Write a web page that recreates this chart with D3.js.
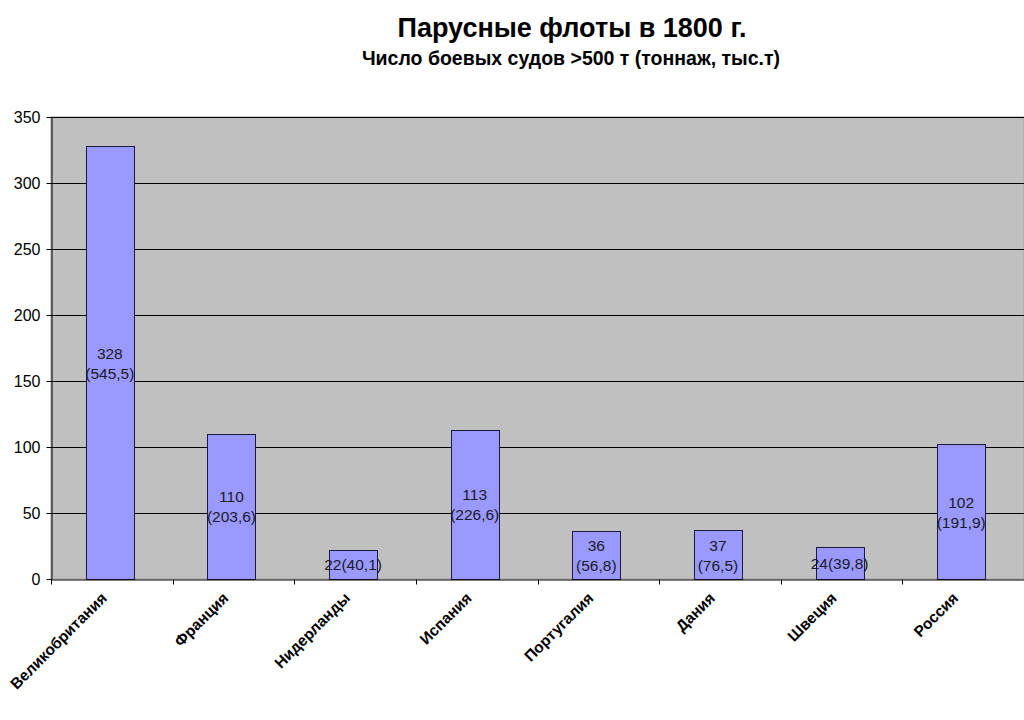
<!DOCTYPE html>
<html><head><meta charset="utf-8">
<script src="https://cdn.jsdelivr.net/npm/d3@7"></script>
<style>body{margin:0;background:#fff}svg{display:block}</style>
</head><body>
<svg id="c" width="1024" height="720"></svg>
<script>
const categories = ["Великобритания","Франция","Нидерланды","Испания","Португалия","Дания","Швеция","Россия"];
const ships = [328,110,22,113,36,37,24,102];
const tonnage = ["545,5","203,6","40,1","226,6","56,8","76,5","39,8","191,9"];
const singleLine = [false,false,true,false,false,false,true,false];
const yTicks = [0,50,100,150,200,250,300,350];
const title = "Парусные флоты в 1800 г.";
const subtitle = "Число боевых судов >500 т (тоннаж, тыс.т)";

const svg = d3.select("#c");
const font = "'Liberation Sans', Arial, sans-serif";
const L=51, R=1024, T=117, B=579;
const x = d3.scaleBand().domain(categories).range([L,R]).padding(0);
const y = d3.scaleLinear().domain([0,350]).range([B,T]);
const barW = x.bandwidth()*0.395;
const shift = -2;

svg.append("rect").attr("x",L).attr("y",T).attr("width",R-L).attr("height",B-T)
  .attr("fill","#c0c0c0").attr("stroke","#a0a0a0");

svg.append("g").selectAll("line").data(yTicks.filter(d=>d>0)).join("line")
  .attr("x1",L).attr("x2",R).attr("y1",d=>y(d)+0.5).attr("y2",d=>y(d)+0.5)
  .attr("stroke","#000").attr("stroke-width",1);

svg.append("g").selectAll("rect").data(categories).join("rect")
  .attr("x",(d)=>Math.round(x(d)+x.bandwidth()/2+shift-barW/2)+0.5)
  .attr("y",(d,i)=>Math.round(y(ships[i]))+0.5)
  .attr("width",Math.round(barW))
  .attr("height",(d,i)=>Math.round(B-y(ships[i])))
  .attr("fill","#9999ff").attr("stroke","#1a1a40").attr("stroke-width",1);

const ya = svg.append("g").attr("transform",`translate(${L+0.5},0)`)
  .call(d3.axisLeft(y).tickValues(yTicks).tickSize(5).tickSizeOuter(0).tickPadding(6));
ya.select(".domain").attr("stroke","#000");
ya.selectAll(".tick line").attr("stroke","#000");
ya.selectAll("text").attr("font-family",font).attr("font-size",16).attr("fill","#000");

const xa = svg.append("g").attr("transform",`translate(0,${B+0.5})`)
  .call(d3.axisBottom(x).tickSize(0).tickFormat(""));
xa.select(".domain").attr("stroke","#000");
const bounds = categories.map(c=>x(c)).concat([R]);
xa.selectAll(".bt").data(bounds).join("line").attr("class","bt")
  .attr("x1",d=>Math.round(d)+0.5).attr("x2",d=>Math.round(d)+0.5).attr("y1",0).attr("y2",5)
  .attr("stroke","#000");
svg.append("g").selectAll("text").data(categories).join("text")
  .attr("transform",d=>`translate(${x(d)+x.bandwidth()/2-4},${B+20}) rotate(-45)`)
  .attr("text-anchor","end").attr("font-family",font).attr("font-size",15.5)
  .attr("font-weight","bold").attr("fill","#000").text(d=>d);

const lbl = svg.append("g").attr("font-family",font).attr("font-size",15.5).attr("fill","#1a1a2a").attr("text-anchor","middle");
categories.forEach((c,i)=>{
  const cx = x(c)+x.bandwidth()/2+shift;
  const cy = (y(ships[i])+B)/2;
  if(singleLine[i]){
    lbl.append("text").attr("x",cx).attr("y",cy+6).text(ships[i]+"("+tonnage[i]+")");
  } else {
    lbl.append("text").attr("x",cx).attr("y",cy-4).text(ships[i]);
    lbl.append("text").attr("x",cx).attr("y",cy+16).text("("+tonnage[i]+")");
  }
});

svg.append("text").attr("x",572).attr("y",37).attr("text-anchor","middle")
  .attr("font-family",font).attr("font-size",27).attr("font-weight","bold").text(title);
svg.append("text").attr("x",571).attr("y",65).attr("text-anchor","middle")
  .attr("font-family",font).attr("font-size",19.5).attr("font-weight","bold").text(subtitle);
</script>
</body></html>
